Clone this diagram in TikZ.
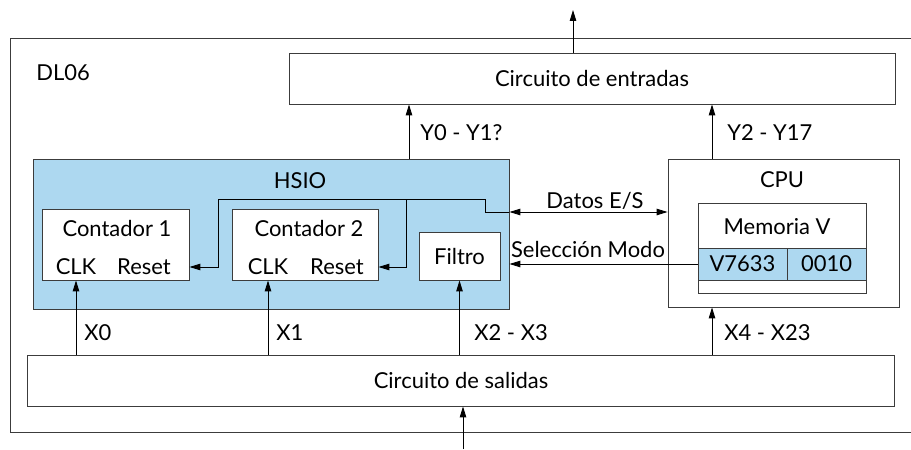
\documentclass[tikz,border=0pt]{standalone}
\usepackage{fontspec}
\setmainfont{Lato}
\usetikzlibrary{positioning,arrows.meta,calc}
\definecolor{hsioblue}{RGB}{173,216,240}
\definecolor{linegray}{RGB}{60,60,60}
\tikzset{
box/.style={
draw=linegray,
line width=0.5pt,
inner sep=0pt,
fill=white,
font=\fontsize{12.5}{15}\selectfont
},
bluebox/.style={
box,
fill=hsioblue
},
txt/.style={
inner sep=0pt,
font=\fontsize{12.5}{15}\selectfont
},
arrow/.style={
-{Triangle[length=2.2mm,width=1.3mm]},
line width=0.5pt
},
darrow/.style={
{Triangle[length=2.2mm,width=1.3mm]}-{Triangle[length=2.2mm,width=1.3mm]},
line width=0.5pt
}
}

\begin{document}
\begin{tikzpicture}[x=0.02cm,y=-0.02cm]
\useasboundingbox (0,0) rectangle (911,449);

% frame of the DL06
\draw[draw=linegray,line width=0.5pt] (911,38) -| (10,432) -- (911,432);
\node[txt,anchor=west](dl) at (36,73){DL06};

% main blocks
\node[box,minimum width=12.12cm,minimum height=1.02cm](entradas) at (592,78.5){Circuito de entradas};
\node[bluebox,minimum width=9.52cm,minimum height=3.0cm](hsio) at (271,234){};
\node[box,minimum width=4.62cm,minimum height=2.96cm](cpu) at (783.5,233){};
\node[box,minimum width=17.36cm,minimum height=1.02cm](salidas) at (461,380.5){Circuito de salidas};

% inside HSIO
\node[txt](hsiot) at (300,181){HSIO};
\node[box,minimum width=2.94cm,minimum height=1.42cm](cnt1) at (115.5,244.5){};
\node[box,minimum width=2.92cm,minimum height=1.42cm](cnt2) at (305,244.5){};
\node[box,minimum width=1.62cm,minimum height=0.96cm](filtro) at (459.5,256){Filtro};
\node[txt](cnt1t) at (117,228){Contador 1};
\node[txt](clk1) at (76,267){CLK};
\node[txt](rst1) at (144,267){Reset};
\node[txt](cnt2t) at (309,228){Contador 2};
\node[txt](clk2) at (268,267){CLK};
\node[txt](rst2) at (337,267){Reset};

% inside CPU
\node[txt](cput) at (782,180){CPU};
\node[box,minimum width=3.36cm,minimum height=1.8cm](mem) at (782,248){};
\node[txt](memt) at (777,227){Memoria V};
\node[bluebox,minimum width=1.78cm,minimum height=0.64cm](cell1) at (742.5,264){V7633};
\node[bluebox,minimum width=1.58cm,minimum height=0.64cm](cell2) at (826.5,264){0010};

% outputs
\coordinate (outtop) at (573,10);
\coordinate (y01) at (409,133);
\coordinate (y217) at (712,133);
\draw[arrow](entradas.north -| outtop)--(outtop);
\draw[arrow](hsio.north -| y01)--(entradas.south -| y01);
\draw[arrow](cpu.north -| y217)--(entradas.south -| y217);
\node[txt,anchor=west](y01t) at (420,133){Y0 - Y1?};
\node[txt,anchor=west](y217t) at (727,133){Y2 - Y17};

% data and mode
\coordinate (datos) at (595,212);
\coordinate (bus) at (485,199);
\coordinate (j1) at (218,199);
\coordinate (j2) at (406,199);
\draw[darrow](hsio.east |- datos)--(cpu.west |- datos);
\node[txt,above=1.5pt of datos](datost){Datos E/S};
\draw[arrow](hsio.east |- datos) -| (bus) -- (j1) |- (cnt1.east |- rst1);
\draw[arrow](j2) |- (cnt2.east |- rst2);
\draw[arrow](cell1.west)--(hsio.east |- cell1.west);
\node[txt](modot) at (588,249){Selección Modo};

% inputs
\coordinate (inbot) at (463,449);
\draw[arrow](inbot)--(salidas.south -| inbot);
\draw[arrow](salidas.north -| clk1)--(cnt1.south -| clk1);
\draw[arrow](salidas.north -| clk2)--(cnt2.south -| clk2);
\draw[arrow](salidas.north -| filtro)--(filtro.south);
\draw[arrow](salidas.north -| y217)--(cpu.south -| y217);
\node[txt,anchor=west](x0t) at (84,333){X0};
\node[txt,anchor=west](x1t) at (276,333){X1};
\node[txt,anchor=west](x23t) at (474,333){X2 - X3};
\node[txt,anchor=west](x423t) at (724,333){X4 - X23};
\end{tikzpicture}
\end{document}
